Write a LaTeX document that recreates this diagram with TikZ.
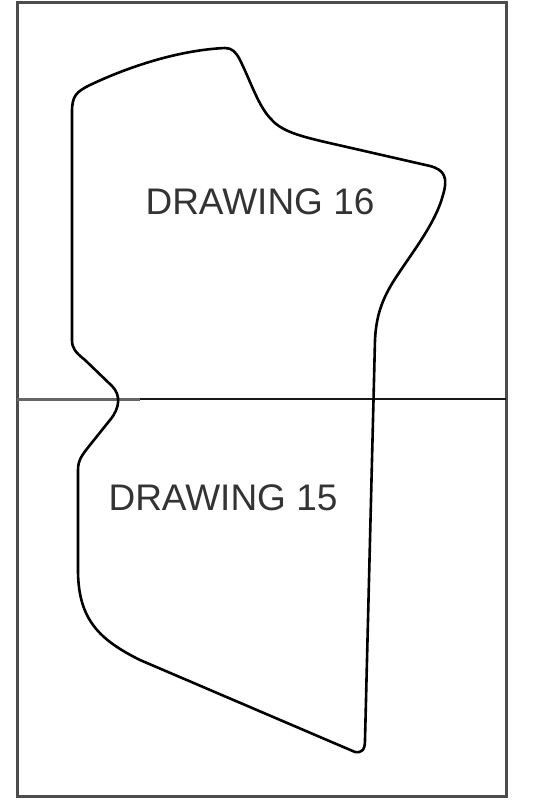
\documentclass[tikz,border=0pt]{standalone}
\usepackage{fontspec}
\setmainfont{Liberation Sans}
\begin{document}
\begin{tikzpicture}[x=1pt,y=-1pt,
  frame/.style={draw=black!70,line width=3pt},
  divider/.style={draw=black!90,line width=2pt},
  outline/.style={draw=black,line width=2.6pt,line join=round},
  label/.style={text=black!80,inner sep=0pt,font=\fontsize{37}{40}\selectfont}]
\useasboundingbox (0,0) rectangle (554,808);
\fill[white] (0,0) rectangle (554,808);
% outer frame
\draw[frame] (17,3) rectangle (506,796);
% divider line
\coordinate (dl) at (17,399);
\coordinate (dr) at (506,399);
\draw[divider] (dl) -- (dr);
\draw[draw=black!60,line width=3pt] (dl) -- (140,399);
% outline of the drawing area
\draw[outline] (72,340) -- (72,112)
  .. controls (72,96) and (76,92) .. (90,85)
  .. controls (130,66) and (180,50) .. (225,48)
  .. controls (232,48) and (236,52) .. (240,60)
  .. controls (250,80) and (258,105) .. (270,118)
  .. controls (280,130) and (295,135) .. (325,142)
  -- (430,166)
  .. controls (445,170) and (448,178) .. (443,195)
  .. controls (435,225) and (410,255) .. (393,282)
  .. controls (380,303) and (376,320) .. (375,340)
  -- (365,740)
  .. controls (365,750) and (362,753) .. (355,752)
  -- (140,660)
  .. controls (100,640) and (78,620) .. (78,570)
  -- (78,470)
  .. controls (78,460) and (82,455) .. (90,445)
  -- (110,420)
  .. controls (120,408) and (121,395) .. (112,386)
  -- (85,360)
  .. controls (75,352) and (72,348) .. (72,340) -- cycle;
% labels
\node[label] (d16) at (260,202) {DRAWING 16};
\node[label] (d15) at (223,498) {DRAWING 15};
\end{tikzpicture}
\end{document}
